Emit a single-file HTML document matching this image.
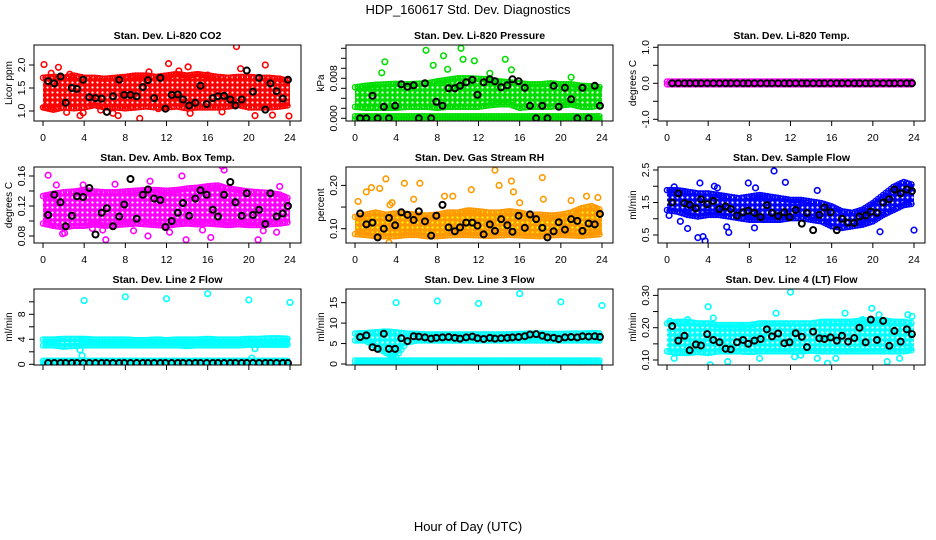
<!DOCTYPE html>
<html><head><meta charset="utf-8">
<style>
html,body{margin:0;padding:0;background:#fff;}
svg{display:block;font-family:"Liberation Sans",sans-serif;}
</style></head>
<body>
<svg id="chart" width="936" height="540" viewBox="0 0 936 540" xmlns="http://www.w3.org/2000/svg">
<text x="468" y="14" text-anchor="middle" font-size="13">HDP_160617  Std. Dev. Diagnostics</text>
<text x="468" y="531" text-anchor="middle" font-size="13">Hour of Day (UTC)</text>
</svg>
<script>
// shared times of black (hourly-average) points
const blackHours = [0.5,1.1,1.7,2.2,2.8,3.3,3.9,4.5,5.1,5.7,6.2,6.8,7.4,7.9,8.5,9.1,9.7,10.2,10.8,11.4,11.9,12.5,13.1,13.6,14.2,14.8,15.3,15.9,16.5,17.0,17.6,18.2,18.7,19.3,19.8,20.4,21.0,21.6,22.1,22.7,23.3,23.8];
const bandHours = [0,1,2,3,4,5,6,7,8,9,10,11,12,13,14,15,16,17,18,19,20,21,22,23,24];
const xTicks = [0,4,8,12,16,20,24];

// Panel 1: CO2
const co2Lo = [1.1,1.05,1.1,1.08,1.1,1.15,1.1,1.1,1.08,1.1,1.12,1.1,1.1,1.12,1.08,1.1,1.1,1.1,1.12,1.15,1.1,1.1,1.1,1.12,1.15];
const co2Hi = [1.7,1.72,1.7,1.75,1.7,1.7,1.68,1.7,1.72,1.75,1.75,1.72,1.75,1.78,1.75,1.78,1.75,1.72,1.7,1.72,1.72,1.7,1.7,1.68,1.62];
const co2OutX = [0.1,0.2,1.5,2.3,3.6,3.9,6.8,7.3,8.6,9.4,10.3,12.2,13.2,14.1,14.3,17.4,18.8,19.2,20.6,21.6,22.3,23.9,5.6,11.2,16.0,0.8,2.6];
const co2OutY = [2.01,1.08,1.95,0.97,0.9,0.96,0.95,0.9,1.75,0.84,1.85,2.03,1.87,1.96,0.95,0.98,2.4,1.92,0.9,2.0,0.91,0.89,1.02,1.05,1.78,1.82,1.8];
const co2Black = [1.65,1.6,1.75,1.18,1.5,1.48,1.68,1.3,1.28,1.27,0.98,1.32,1.68,1.35,1.35,1.32,1.52,1.67,1.28,1.72,1.05,1.35,1.36,1.25,1.12,1.18,1.55,1.15,1.28,1.32,1.33,1.25,1.12,1.25,1.88,1.42,1.72,1.03,1.6,1.43,1.27,1.68];

// Panel 2: Pressure
const prLo = [0.0025,0.0023,0.0023,0.0023,0.0023,0.0025,0.0025,0.0025,0.0023,0.0025,0.0025,0.0025,0.0025,0.0028,0.003,0.003,0.0023,0.0025,0.0025,0.0025,0.0028,0.003,0.0025,0.0025,0.0028];
const prHi = [0.006,0.0063,0.0065,0.0066,0.0067,0.0066,0.0067,0.0068,0.0072,0.0075,0.0078,0.0078,0.0077,0.0076,0.0072,0.007,0.0068,0.0066,0.0066,0.0068,0.0066,0.0066,0.0063,0.0062,0.006];
const prZeroLo = [0,0,0,0,0,0,0,0,0,0,0,0,0,0,0,0,0,0,0,0,0,0,0,0,0];
const prZeroHi = [0.0002,0.0002,0.0002,0.0002,0.0002,0.0002,0.0002,0.0002,0.0002,0.0002,0.0002,0.0002,0.0002,0.0002,0.0002,0.0002,0.0002,0.0002,0.0002,0.0002,0.0002,0.0002,0.0002,0.0002,0.0002];
const prOutX = [2.9,6.9,7.6,8.6,9.0,10.3,10.5,11.6,13.1,14.6,15.2,21.0,2.6];
const prOutY = [0.0113,0.0136,0.0106,0.0125,0.0098,0.014,0.0118,0.0115,0.009,0.0118,0.0097,0.0082,0.0091];
const prBlack = [0,0,0.0045,0,0.0023,0,0.0025,0.0068,0.0063,0.0066,0,0.007,0,0.0033,0.0025,0.006,0.006,0.0065,0.0072,0.0077,0.0047,0.0072,0.0078,0.0074,0.0062,0.0066,0.0078,0.0074,0.0061,0.0025,0,0.0025,0,0.0065,0.0023,0.0061,0.0038,0,0.0061,0,0.0065,0.0025];

// Panel 3: Li-820 Temp
const tLo = [0,0,0,0,0,0,0,0,0,0,0,0,0,0,0,0,0,0,0,0,0,0,0,0,0];
const tHi = [0.02,0.02,0.02,0.02,0.02,0.02,0.02,0.02,0.02,0.02,0.02,0.02,0.02,0.02,0.02,0.02,0.02,0.02,0.02,0.02,0.02,0.02,0.02,0.02,0.02];
const tBlack = [0,0,0,0,0,0,0,0,0,0,0,0,0,0,0,0,0,0,0,0,0,0,0,0,0,0,0,0,0,0,0,0,0,0,0,0,0,0,0,0,0,0];

// Panel 4: Amb. box temp
const abLo = [0.098,0.095,0.093,0.095,0.095,0.097,0.095,0.096,0.097,0.098,0.097,0.096,0.095,0.097,0.098,0.097,0.098,0.097,0.096,0.097,0.096,0.096,0.097,0.098,0.1];
const abHi = [0.132,0.135,0.137,0.138,0.14,0.138,0.137,0.137,0.138,0.139,0.14,0.14,0.139,0.14,0.142,0.143,0.145,0.146,0.142,0.14,0.138,0.137,0.136,0.134,0.128];
const abOutX = [0.5,1.3,2.1,3.9,4.8,6.1,7.0,8.8,10.2,12.3,13.5,13.9,15.5,16.3,17.4,17.6,20.9,21.4,22.7,23.0,1.9,5.8,10.4];
const abOutY = [0.161,0.148,0.084,0.148,0.09,0.075,0.149,0.087,0.08,0.085,0.16,0.075,0.088,0.078,0.173,0.168,0.075,0.087,0.085,0.146,0.083,0.088,0.153];
const abBlack = [0.108,0.135,0.125,0.093,0.107,0.133,0.132,0.144,0.082,0.111,0.117,0.093,0.106,0.122,0.156,0.103,0.135,0.142,0.13,0.128,0.092,0.1,0.111,0.124,0.107,0.13,0.141,0.135,0.115,0.106,0.135,0.152,0.125,0.107,0.137,0.108,0.115,0.096,0.137,0.106,0.11,0.12];

// Panel 5: Gas stream RH
const rhLo = [0.09,0.088,0.085,0.085,0.085,0.088,0.088,0.085,0.085,0.087,0.088,0.088,0.087,0.086,0.087,0.088,0.087,0.086,0.085,0.087,0.088,0.087,0.086,0.088,0.09];
const rhHi = [0.125,0.13,0.135,0.13,0.133,0.132,0.13,0.128,0.13,0.135,0.135,0.14,0.138,0.135,0.135,0.138,0.135,0.13,0.13,0.128,0.13,0.135,0.145,0.15,0.14];
const rhOutX = [0.3,1.1,1.6,2.4,3.0,3.3,3.6,4.8,6.3,5.7,8.7,9.5,11.3,13.6,14.0,15.2,15.4,16.0,18.2,18.3,21.0,22.5,23.6,3.4];
const rhOutY = [0.163,0.185,0.195,0.193,0.215,0.068,0.16,0.205,0.205,0.168,0.175,0.175,0.19,0.235,0.2,0.21,0.185,0.16,0.218,0.168,0.165,0.175,0.172,0.155];
const rhBlack = [0.135,0.11,0.114,0.08,0.1,0.125,0.108,0.138,0.132,0.12,0.14,0.117,0.084,0.13,0.155,0.103,0.094,0.103,0.114,0.114,0.107,0.087,0.11,0.095,0.122,0.108,0.093,0.13,0.102,0.133,0.122,0.102,0.08,0.094,0.115,0.098,0.122,0.118,0.095,0.112,0.11,0.134];

// Panel 6: Sample flow
const sfLo = [1.3,1.25,1.15,1.1,1.15,1.15,1.1,1.05,1.0,1.0,1.0,1.0,1.05,1.05,1.0,0.95,0.8,0.75,0.8,0.85,0.95,1.15,1.3,1.45,1.5];
const sfHi = [1.85,1.85,1.8,1.75,1.75,1.7,1.65,1.6,1.65,1.7,1.65,1.6,1.55,1.55,1.5,1.45,1.35,1.2,1.15,1.25,1.45,1.7,1.95,2.1,2.0];
const sfOutX = [0.2,1.3,2.0,3.0,3.2,3.5,3.7,4.6,5.8,6.0,7.9,8.5,8.6,10.4,11.5,14.6,20.7,24.0,0.7,4.9];
const sfOutY = [1.1,0.92,0.7,0.42,2.1,0.45,0.32,2.0,0.75,0.58,2.1,0.72,1.95,2.47,2.12,1.87,0.6,0.65,1.98,1.95];
const sfBlack = [1.5,1.78,1.48,1.43,1.32,1.6,1.45,1.55,1.3,1.38,1.3,1.1,1.2,1.25,1.18,1.05,1.42,1.18,1.08,1.2,1.05,1.27,0.85,1.18,0.65,1.12,1.35,1.2,0.65,1.0,0.88,0.87,1.07,1.1,1.22,1.18,1.5,1.6,1.9,1.78,1.9,1.85];

// Panel 7: Line 2 flow
const l2Lo = [3.2,3.2,3.0,3.1,3.2,3.2,3.2,3.2,3.2,3.2,3.2,3.2,3.2,3.2,3.1,3.2,3.2,3.2,3.2,3.2,3.3,3.3,3.3,3.3,3.3];
const l2Hi = [3.8,3.8,3.9,3.9,3.9,3.8,3.8,3.8,3.8,3.7,3.7,3.8,3.7,3.8,3.8,3.8,3.9,3.8,3.8,3.8,3.9,3.9,4.0,4.0,3.9];
const l2ZLo = [0.05,0.05,0.05,0.05,0.05,0.05,0.05,0.05,0.05,0.05,0.05,0.05,0.05,0.05,0.05,0.05,0.05,0.05,0.05,0.05,0.05,0.05,0.05,0.05,0.05];
const l2ZHi = [0.4,0.4,0.4,0.4,0.4,0.4,0.4,0.4,0.4,0.4,0.4,0.4,0.4,0.4,0.4,0.4,0.4,0.4,0.4,0.4,0.4,0.4,0.4,0.4,0.4];
const l2OutX = [4.0,8.0,12.0,16.0,20.0,24.0,3.6,3.8,3.7,20.3,20.6,0.1];
const l2OutY = [10.2,10.8,10.5,11.3,10.3,9.9,2.3,1.4,3.9,1.0,2.5,0.2];
const l2Black = [0.2,0.2,0.2,0.2,0.2,0.2,0.2,0.2,0.2,0.2,0.2,0.2,0.2,0.2,0.2,0.2,0.2,0.2,0.2,0.2,0.2,0.2,0.2,0.2,0.2,0.2,0.2,0.2,0.2,0.2,0.2,0.2,0.2,0.2,0.2,0.2,0.2,0.2,0.2,0.2,0.2,0.2];

// Panel 8: Line 3 flow
const l3Lo = [6.0,6.0,4.5,3.0,2.0,5.5,6.0,6.0,6.0,6.0,6.0,6.0,6.0,6.0,6.0,6.0,6.0,6.0,6.0,6.0,6.0,6.0,6.0,6.0,6.0];
const l3Hi = [7.2,7.3,7.5,7.7,7.5,7.2,7.1,7.0,7.0,7.0,7.0,7.0,7.0,7.0,7.0,7.0,7.1,7.2,7.2,7.1,7.1,7.2,7.2,7.3,7.2];
const l3ZLo = [0,0,0,0,0,0,0,0,0,0,0,0,0,0,0,0,0,0,0,0,0,0,0,0,0];
const l3ZHi = [0.6,0.6,0.6,0.6,0.6,0.6,0.6,0.6,0.6,0.6,0.6,0.6,0.6,0.6,0.6,0.6,0.6,0.6,0.6,0.6,0.6,0.6,0.6,0.6,0.6];
const l3OutX = [4.0,8.0,12.0,16.0,20.0,24.0,3.5,4.2];
const l3OutY = [15.0,15.4,14.8,17.2,15.2,14.3,1.8,3.4];
const l3Black = [6.6,7.0,4.1,3.7,7.4,3.7,3.7,6.3,5.6,6.8,6.7,6.5,6.2,6.4,6.5,6.6,6.4,6.2,6.5,6.7,6.3,6.1,6.4,6.2,6.3,6.4,6.5,6.6,6.8,7.2,7.3,6.9,6.5,6.4,6.1,6.5,6.6,6.5,6.8,6.7,6.8,6.6];

// Panel 9: Line 4 (LT) flow
const l4Lo = [0.13,0.125,0.125,0.128,0.125,0.13,0.13,0.13,0.128,0.13,0.13,0.13,0.13,0.13,0.132,0.13,0.13,0.13,0.13,0.13,0.13,0.13,0.13,0.13,0.135];
const l4Hi = [0.21,0.215,0.215,0.21,0.21,0.205,0.205,0.205,0.205,0.21,0.21,0.21,0.21,0.21,0.21,0.215,0.215,0.215,0.215,0.22,0.22,0.22,0.215,0.215,0.21];
const l4OutX = [0.3,0.7,2.0,4.0,4.2,5.9,7.2,9.0,10.6,12.0,12.4,14.6,15.6,16.4,17.3,19.0,19.9,20.6,21.4,22.6,23.4,23.8,13.0,4.5];
const l4OutY = [0.22,0.105,0.225,0.265,0.085,0.095,0.205,0.105,0.245,0.31,0.11,0.105,0.09,0.105,0.245,0.225,0.26,0.24,0.095,0.105,0.24,0.235,0.115,0.23];
const l4Black = [0.205,0.16,0.175,0.13,0.148,0.145,0.18,0.162,0.155,0.135,0.133,0.155,0.162,0.15,0.16,0.165,0.195,0.173,0.182,0.152,0.155,0.183,0.172,0.14,0.188,0.167,0.165,0.17,0.16,0.175,0.157,0.168,0.2,0.155,0.225,0.162,0.221,0.144,0.19,0.157,0.195,0.18];

const panels = [
 {name:'co2',title:'Stan. Dev. Li-820 CO2',ylab:'Licor ppm',col:'#ff0000',dot:'#ffffff',v0:1.0,p0:111,k:46,ticks:[1.0,1.5,2.0],labs:['1.0','1.5','2.0'],lo:co2Lo,hi:co2Hi,ox:co2OutX,oy:co2OutY,blk:co2Black},
 {name:'pressure',title:'Stan. Dev. Li-820 Pressure',ylab:'kPa',col:'#00dd00',dot:'#ffffff',v0:0,p0:118.3,k:5000,ticks:[0,0.002,0.004,0.006,0.008,0.01,0.012,0.014],labs:['0.000','','','','0.008','','',''],lo:prLo,hi:prHi,lo2:prZeroLo,hi2:prZeroHi,ox:prOutX,oy:prOutY,blk:prBlack},
 {name:'li820-temp',title:'Stan. Dev. Li-820 Temp.',ylab:'degrees C',col:'#ff00ff',dot:'#ff00ff',v0:0,p0:83.3,k:36,ticks:[-1,-0.5,0,0.5,1],labs:['-1.0','','0.0','','1.0'],lo:tLo,hi:tHi,ox:[],oy:[],blk:tBlack},
 {name:'amb-box-temp',title:'Stan. Dev. Amb. Box Temp.',ylab:'degrees C',col:'#ff00ff',dot:'#ffffff',v0:0.08,p0:114,k:750,ticks:[0.08,0.1,0.12,0.14,0.16],labs:['0.08','','0.12','','0.16'],lo:abLo,hi:abHi,ox:abOutX,oy:abOutY,blk:abBlack},
 {name:'gas-rh',title:'Stan. Dev. Gas Stream RH',ylab:'percent',col:'#ff9900',dot:'#ffff00',v0:0.10,p0:106.7,k:433,ticks:[0.1,0.15,0.2],labs:['0.10','','0.20'],lo:rhLo,hi:rhHi,ox:rhOutX,oy:rhOutY,blk:rhBlack},
 {name:'sample-flow',title:'Stan. Dev. Sample Flow',ylab:'ml/min',col:'#0000ff',dot:'#ffffff',v0:0.5,p0:113,k:32.5,ticks:[0.5,1,1.5,2,2.5],labs:['0.5','','1.5','','2.5'],lo:sfLo,hi:sfHi,ox:sfOutX,oy:sfOutY,blk:sfBlack},
 {name:'line2-flow',title:'Stan. Dev. Line 2 Flow',ylab:'ml/min',col:'#00ffff',dot:'#ffffff',v0:0,p0:120.3,k:6.25,ticks:[0,2,4,6,8,10],labs:['0','','4','','8',''],lo:l2Lo,hi:l2Hi,lo2:l2ZLo,hi2:l2ZHi,ox:l2OutX,oy:l2OutY,blk:l2Black,noX:true},
 {name:'line3-flow',title:'Stan. Dev. Line 3 Flow',ylab:'ml/min',col:'#00ffff',dot:'#ffffff',v0:0,p0:120,k:4.09,ticks:[0,5,10,15],labs:['0','5','10','15'],lo:l3Lo,hi:l3Hi,lo2:l3ZLo,hi2:l3ZHi,ox:l3OutX,oy:l3OutY,blk:l3Black,noX:true},
 {name:'line4-flow',title:'Stan. Dev. Line 4 (LT) Flow',ylab:'ml/min',col:'#00ffff',dot:'#ffffff',v0:0.10,p0:116,k:323,ticks:[0.1,0.15,0.2,0.25,0.3],labs:['0.10','','0.20','','0.30'],lo:l4Lo,hi:l4Hi,ox:l4OutX,oy:l4OutY,blk:l4Black,noX:true}
];

const NS='http://www.w3.org/2000/svg';
const svg=document.getElementById('chart');
function mk(tag,attrs,parent){const e=document.createElementNS(NS,tag);for(const a in attrs)e.setAttribute(a,attrs[a]);(parent||svg).appendChild(e);return e;}
const defs=mk('defs',{});

panels.forEach((p,i)=>{
  const c=i%3, r=Math.floor(i/3);
  const dx=312*c, dy=122*r;
  const L=34+dx, R=301+dx, T=45+dy, B=121+dy;
  const xs=h=>43+dx+h*(247/24);
  const ys=v=>p.p0+dy-(v-p.v0)*p.k;
  // texture pattern: ring markers on coloured ground
  const pat=mk('pattern',{id:'pat'+i,width:5,height:5,patternUnits:'userSpaceOnUse'},defs);
  mk('rect',{width:5,height:5,fill:p.col},pat);
  mk('circle',{cx:2.5,cy:2.5,r:1.1,fill:p.dot},pat);
  const g=mk('g',{});
  
  
  const clipId='clip'+i;
  const cp=mk('clipPath',{id:clipId},g);mk('rect',{x:L,y:T,width:R-L,height:B-T},cp);
  const plot=mk('g',{'clip-path':'url(#'+clipId+')'},g);
  function band(lo,hi,nm){
    let d='';
    bandHours.forEach((h,j)=>{d+=(j?'L':'M')+xs(h).toFixed(1)+','+(ys(hi[j])-2).toFixed(1);});
    for(let j=bandHours.length-1;j>=0;j--){d+='L'+xs(bandHours[j]).toFixed(1)+','+(ys(lo[j])+2).toFixed(1);}
    const pa=mk('path',{d:d+'Z',fill:'url(#pat'+i+')',stroke:'none'},plot);
    
    
    for(let j=0;j<bandHours.length-1;j++){
      for(let s=0;s<4;s++){
        const f=s/4,h=bandHours[j]+f;
        const vh=hi[j]+(hi[j+1]-hi[j])*f, vl=lo[j]+(lo[j+1]-lo[j])*f;
        const c1=mk('circle',{cx:xs(h),cy:ys(vh)-1,r:2.6,fill:'none',stroke:p.col,'stroke-width':1.4},plot);
        
        
        const c2=mk('circle',{cx:xs(h),cy:ys(vl)+1,r:2.6,fill:'none',stroke:p.col,'stroke-width':1.4},plot);
        
        
      }
    }
  }
  band(p.lo,p.hi,'data-band');
  if(p.lo2) band(p.lo2,p.hi2,'data-band-low');
  p.ox.forEach((h,j)=>{
    const o=mk('circle',{cx:xs(h),cy:ys(p.oy[j]),r:2.8,fill:'none',stroke:p.col,'stroke-width':1.6},plot);
    
    
  });
  p.blk.forEach((v,j)=>{
    const b=mk('circle',{cx:xs(blackHours[j]),cy:ys(v),r:3,fill:'none',stroke:'#000','stroke-width':2},plot);
    
    
  });
  const bx=mk('rect',{x:L,y:T,width:R-L,height:B-T,fill:'none',stroke:'#000','stroke-width':1},g);
  
  
  const t=mk('text',{x:(L+R)/2,y:T-6,'text-anchor':'middle','font-size':10.5,'font-weight':'bold'},g);
  t.textContent=p.title;
  
  
  const yl=mk('text',{transform:'translate('+(12+dx)+','+((T+B)/2)+') rotate(-90)','text-anchor':'middle','font-size':10},g);
  yl.textContent=p.ylab;
  
  
  const y1=ys(p.ticks[0]), y2=ys(p.ticks[p.ticks.length-1]);
  const ya=mk('line',{x1:L,x2:L,y1:y1,y2:y2,stroke:'#000'},g);
  
  
  p.ticks.forEach((v,j)=>{
    const yy=ys(v);
    mk('line',{x1:L-5,x2:L,y1:yy,y2:yy,stroke:'#000'},g);
    if(p.labs[j]){
      const tl=mk('text',{transform:'translate('+(L-9)+','+yy+') rotate(-90)','text-anchor':'middle','font-size':10.5},g);
      tl.textContent=p.labs[j];
      
      
    }
  });
  const xa=mk('line',{x1:xs(0),x2:xs(24),y1:B,y2:B,stroke:'#000'},g);
  
  
  xTicks.forEach(h=>{
    mk('line',{x1:xs(h),x2:xs(h),y1:B,y2:B+5,stroke:'#000'},g);
    if(!p.noX){
      const xl=mk('text',{x:xs(h),y:B+20,'text-anchor':'middle','font-size':10.5},g);
      xl.textContent=String(h);
      
      
    }
  });
});
</script>
</body></html>
